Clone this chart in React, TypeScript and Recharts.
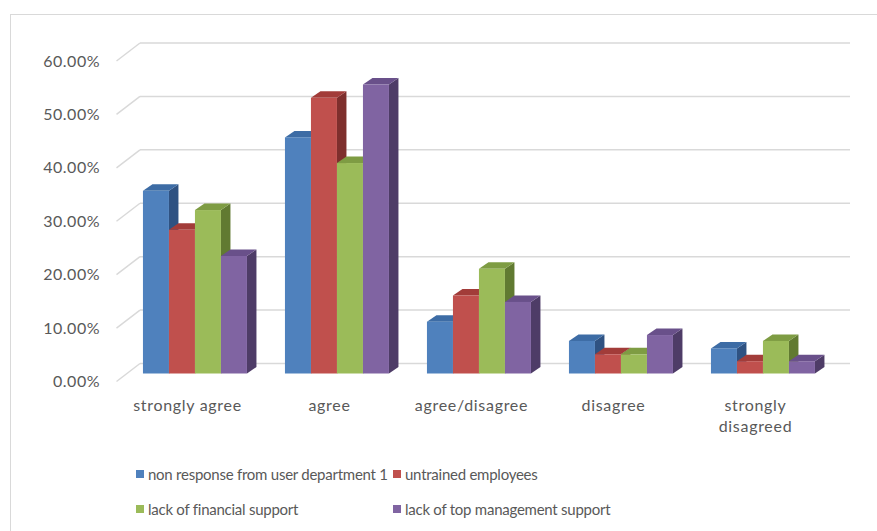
import { BarChart, Bar, XAxis, YAxis, CartesianGrid } from "recharts"

const categories = ["strongly agree", "agree", "agree/disagree", "disagree", "strongly disagreed"]
const nonResponse = [0.342, 0.442, 0.097, 0.061, 0.047]
const untrained = [0.269, 0.516, 0.146, 0.036, 0.023]
const financial = [0.306, 0.394, 0.196, 0.036, 0.061]
const topManagement = [0.22, 0.541, 0.134, 0.072, 0.023]
const yTicks = [0, 0.1, 0.2, 0.3, 0.4, 0.5, 0.6]

const series = [
  { key: "nonResponse", name: "non response from user department 1", front: "#4F81BD", top: "#3D6CA5", side: "#2F5282" },
  { key: "untrained", name: "untrained employees", front: "#C0504D", top: "#A23C39", side: "#7E2F2D" },
  { key: "financial", name: "lack of financial support", front: "#9BBB59", top: "#7E9C43", side: "#617A31" },
  { key: "topManagement", name: "lack of top management support", front: "#8064A2", top: "#69508A", side: "#4E3C67" },
]

const data = categories.map((name, i) => ({
  name,
  nonResponse: nonResponse[i],
  untrained: untrained[i],
  financial: financial[i],
  topManagement: topManagement[i],
}))

const FONT = "Lato, 'Liberation Sans', sans-serif"
const TEXT = "#595959"
const DX = 9.5
const DY = 6.5

const make3DBar = (top: string, side: string) => (props: any) => {
  const { x, y, width, height, fill } = props
  if (!width || height == null) return <g />
  const b = y + height
  return (
    <g>
      <polygon
        points={`${x + width},${y} ${x + width + DX},${y - DY} ${x + width + DX},${b - DY} ${x + width},${b}`}
        fill={side}
      />
      <polygon
        points={`${x},${y} ${x + DX},${y - DY} ${x + width + DX},${y - DY} ${x + width},${y}`}
        fill={top}
      />
      <rect x={x} y={y} width={width} height={height} fill={fill} />
    </g>
  )
}

// back wall line + floor diagonal for each tick
const GridLine = (props: any) => {
  const { x1, x2, y1 } = props
  return (
    <g key={props.key}>
      <line x1={x1 + 16.5} y1={y1 - 10} x2={x2 + 16.5} y2={y1 - 10} stroke="#d9d9d9" strokeWidth={1.5} />
      <line x1={x1 - 7} y1={y1 + 8} x2={x1 + 16.5} y2={y1 - 10} stroke="#d9d9d9" strokeWidth={1.5} />
    </g>
  )
}

const YTick = (props: any) => {
  const { y, payload } = props
  return (
    <text x={100} y={y + 13.5} textAnchor="end" fill={TEXT} fontSize={16} letterSpacing={0.5} fontFamily={FONT}>
      {(payload.value * 100).toFixed(2) + "%"}
    </text>
  )
}

const XTick = (props: any) => {
  const { x, payload } = props
  const label: string = payload.value
  const lines = label === "strongly disagreed" ? ["strongly", "disagreed"] : [label]
  return (
    <text x={x - 7} y={410.5} textAnchor="middle" fill={TEXT} fontSize={16} letterSpacing={0.7} fontFamily={FONT}>
      {lines.map((l, i) => (
        <tspan key={i} x={x - 7} dy={i === 0 ? 0 : 21}>
          {l}
        </tspan>
      ))}
    </text>
  )
}

export default function App() {
  return (
    <div style={{ position: "absolute", left: 0, top: 0, width: 877, height: 531, overflow: "hidden", background: "#fff" }}>
      <div
        style={{
          position: "absolute",
          left: 10,
          top: 14,
          width: 900,
          height: 600,
          border: "1px solid #d9d9d9",
        }}
      />
      <div style={{ position: "absolute", left: 0, top: 0 }}>
        <BarChart
          width={877}
          height={531}
          data={data}
          margin={{ top: 53, right: 43.5, bottom: 97.5, left: 63.5 }}
          barCategoryGap="13.7%"
          barGap={0}
        >
          <CartesianGrid vertical={false} horizontal={GridLine} />
          <XAxis dataKey="name" height={60} axisLine={false} tickLine={false} tick={<XTick />} interval={0} />
          <YAxis
            width={60}
            domain={[0, 0.6]}
            ticks={yTicks}
            axisLine={false}
            tickLine={false}
            tick={<YTick />}
          />
          {series.map((s) => (
            <Bar key={s.key} dataKey={s.key} name={s.name} fill={s.front} isAnimationActive={false} shape={make3DBar(s.top, s.side)} />
          ))}
        </BarChart>
      </div>
      <div style={{ position: "absolute", left: 136, top: 462, fontFamily: FONT, fontSize: 15, letterSpacing: -0.25, color: TEXT }}>
        {series.map((s, i) => (
          <div
            key={s.key}
            style={{
              position: "absolute",
              left: i % 2 === 0 ? 0 : 257,
              top: i < 2 ? 0 : 35,
              display: "flex",
              alignItems: "center",
              whiteSpace: "nowrap",
              height: 24,
            }}
          >
            <span style={{ display: "inline-block", width: 8, height: 8, background: s.front, marginRight: 4 }} />
            {s.name}
          </div>
        ))}
      </div>
    </div>
  )
}
